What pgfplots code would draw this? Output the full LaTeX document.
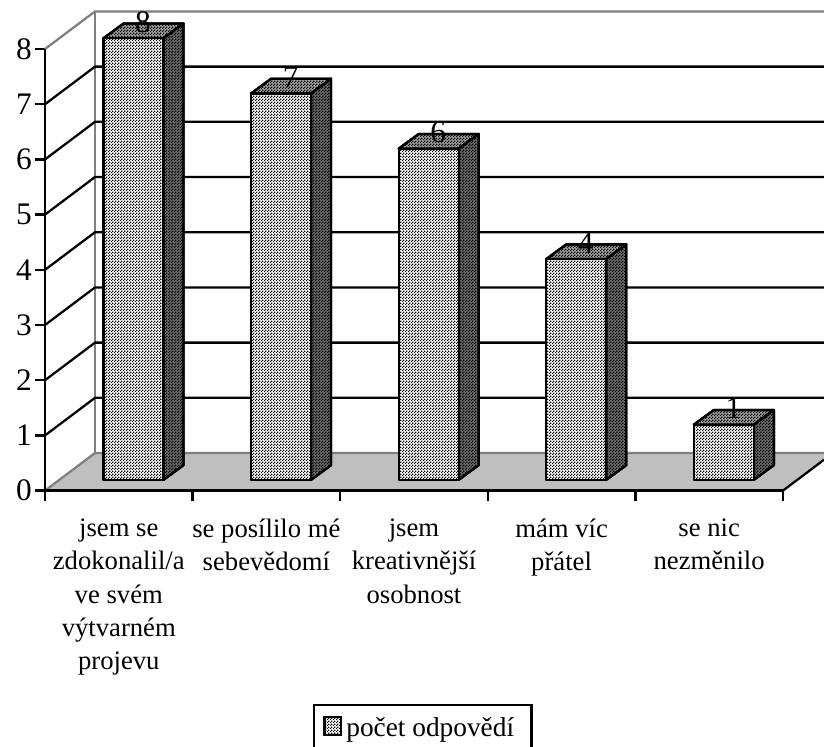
\documentclass[border=0pt]{standalone}
\usepackage{fontspec}
\setmainfont{Liberation Serif}
\usepackage{pgfplots}
\pgfplotsset{compat=1.18}
\usetikzlibrary{patterns}

% Fine checker used on every bar face
\pgfdeclarepatternformonly{fine checker}
  {\pgfqpoint{0pt}{0pt}}{\pgfqpoint{2.25pt}{2.25pt}}{\pgfqpoint{2.25pt}{2.25pt}}
  {\pgfpathrectangle{\pgfqpoint{0pt}{0pt}}{\pgfqpoint{1.125pt}{1.125pt}}
   \pgfpathrectangle{\pgfqpoint{1.125pt}{1.125pt}}{\pgfqpoint{1.125pt}{1.125pt}}
   \pgfusepath{fill}}

\newcommand{\chartfont}{\fontsize{20}{25}\selectfont}
\definecolor{facetop}{gray}{0.63}
\definecolor{faceside}{gray}{0.42}

\pgfplotsset{
  wall/.style={draw=gray, line width=1.7pt, forget plot},
  gridline/.style={draw=black, line width=1.7pt, forget plot},
  barface/.style={draw=black, line width=1.7pt, line join=round, forget plot,
    postaction={pattern=fine checker, pattern color=black}},
  front/.style={barface, fill=white},
  topface/.style={barface, fill=facetop},
  sideface/.style={barface, fill=faceside},
}

\begin{document}
\begin{tikzpicture}
\path[use as bounding box] (0,0) rectangle (618pt,-559.5pt);
\begin{axis}[
  at={(33.75pt,-367.95pt)}, anchor=south west,
  scale only axis, width=584.25pt, height=367.95pt,
  xmin=-0.5, xmax=4.778, ymin=0, ymax=8.888,
  clip=false,
  axis line style={draw=none},
  tick align=outside, xtick pos=bottom, ytick pos=left,
  major tick length=7.5pt, minor tick length=7.5pt,
  ytick={0,...,8},
  xtick={0,1,2,3,4},
  minor xtick={-0.5,0.5,1.5,2.5,3.5,4.5},
  xticklabels={
    {jsem se\\zdokonalil/a\\ve svém\\výtvarném\\projevu},
    {se posílilo mé\\sebevědomí},
    {jsem\\kreativnější\\osobnost},
    {mám víc\\přátel},
    {se nic\\nezměnilo}},
  major x tick style={draw=none},
  minor x tick style={draw=black, line width=1.7pt},
  y tick style={draw=black, line width=1.7pt},
  x tick label style={font=\chartfont, align=center, anchor=north, inner sep=0pt, yshift=-13.5pt},
  y tick label style={font=\fontsize{23.5}{26}\selectfont, inner sep=2.2pt, /pgf/number format/assume math mode=true},
  legend style={
    at={(0.3440,-0.435)}, anchor=north west,
    draw=black, line width=1.7pt, font=\fontsize{20.5}{25}\selectfont,
    inner xsep=7pt, inner ysep=6pt,
    nodes={inner sep=3pt, line width=0.8pt},
  },
  legend cell align=left,
]
% Back wall outline, side wall diagonals
\addplot[wall] coordinates {(-0.5,8) (-0.1612,8.681) (4.778,8.681)};
\addplot[wall] coordinates {(-0.1612,0.681) (-0.1612,8.681)};
% Grid on the side wall and back wall
\addplot[gridline] coordinates {(-0.5,1) (-0.1612,1.681) (4.778,1.681)};
\addplot[gridline] coordinates {(-0.5,2) (-0.1612,2.681) (4.778,2.681)};
\addplot[gridline] coordinates {(-0.5,3) (-0.1612,3.681) (4.778,3.681)};
\addplot[gridline] coordinates {(-0.5,4) (-0.1612,4.681) (4.778,4.681)};
\addplot[gridline] coordinates {(-0.5,5) (-0.1612,5.681) (4.778,5.681)};
\addplot[gridline] coordinates {(-0.5,6) (-0.1612,6.681) (4.778,6.681)};
\addplot[gridline] coordinates {(-0.5,7) (-0.1612,7.681) (4.778,7.681)};
% Floor
\addplot[fill=lightgray, draw=none, forget plot] coordinates {(-0.5,0) (4.5,0) (4.778,0.559) (4.778,0.681) (-0.1612,0.681)} -- cycle;
\addplot[wall] coordinates {(-0.5,0) (-0.1612,0.681) (4.778,0.681)};
\addplot[gridline] coordinates {(4.5,0) (4.778,0.559)};

% Bars: top, side and front faces
\addplot[topface] coordinates {(-0.104,8.195) (0.303,8.195) (0.4385,8.461) (0.0315,8.461)} -- cycle;
\addplot[sideface] coordinates {(0.303,0.195) (0.4385,0.461) (0.4385,8.461) (0.303,8.195)} -- cycle;
\addplot[front] coordinates {(-0.104,0.195) (0.303,0.195) (0.303,8.195) (-0.104,8.195)} -- cycle;

\addplot[topface] coordinates {(0.896,7.195) (1.303,7.195) (1.4385,7.461) (1.0315,7.461)} -- cycle;
\addplot[sideface] coordinates {(1.303,0.195) (1.4385,0.461) (1.4385,7.461) (1.303,7.195)} -- cycle;
\addplot[front] coordinates {(0.896,0.195) (1.303,0.195) (1.303,7.195) (0.896,7.195)} -- cycle;

\addplot[topface] coordinates {(1.896,6.195) (2.303,6.195) (2.4385,6.461) (2.0315,6.461)} -- cycle;
\addplot[sideface] coordinates {(2.303,0.195) (2.4385,0.461) (2.4385,6.461) (2.303,6.195)} -- cycle;
\addplot[front] coordinates {(1.896,0.195) (2.303,0.195) (2.303,6.195) (1.896,6.195)} -- cycle;

\addplot[topface] coordinates {(2.896,4.195) (3.303,4.195) (3.4385,4.461) (3.0315,4.461)} -- cycle;
\addplot[sideface] coordinates {(3.303,0.195) (3.4385,0.461) (3.4385,4.461) (3.303,4.195)} -- cycle;
\addplot[front] coordinates {(2.896,0.195) (3.303,0.195) (3.303,4.195) (2.896,4.195)} -- cycle;

\addplot[topface] coordinates {(3.896,1.195) (4.303,1.195) (4.4385,1.461) (4.0315,1.461)} -- cycle;
\addplot[sideface] coordinates {(4.303,0.195) (4.4385,0.461) (4.4385,1.461) (4.303,1.195)} -- cycle;
\addplot[front] coordinates {(3.896,0.195) (4.303,0.195) (4.303,1.195) (3.896,1.195)} -- cycle;

% Front axis lines
\addplot[gridline] coordinates {(-0.5,8) (-0.5,0) (4.5,0)};

% Values above the bars
\addplot[draw=none, forget plot, point meta=y,
  nodes near coords={\pgfmathprintnumber[assume math mode=true,int detect]{\pgfplotspointmeta}},
  every node near coord/.style={font=\fontsize{23.5}{26}\selectfont, anchor=base, inner sep=0pt, yshift=12.5pt}]
  coordinates {(0.164,8) (1.164,7) (2.164,6) (3.164,4) (4.164,1)};

% Legend entry
\addlegendimage{legend image code/.code={
  \fill[white] (0pt,-5.5pt) rectangle (12.5pt,8pt);
  \fill[pattern=fine checker, pattern color=black] (0pt,-5.5pt) rectangle (12.5pt,8pt);
  \draw[draw=black, line width=1.5pt] (0pt,-5.5pt) rectangle (12.5pt,8pt);}}
\addlegendentry{počet odpovědí\hspace*{3pt}}
\end{axis}
\end{tikzpicture}
\end{document}
